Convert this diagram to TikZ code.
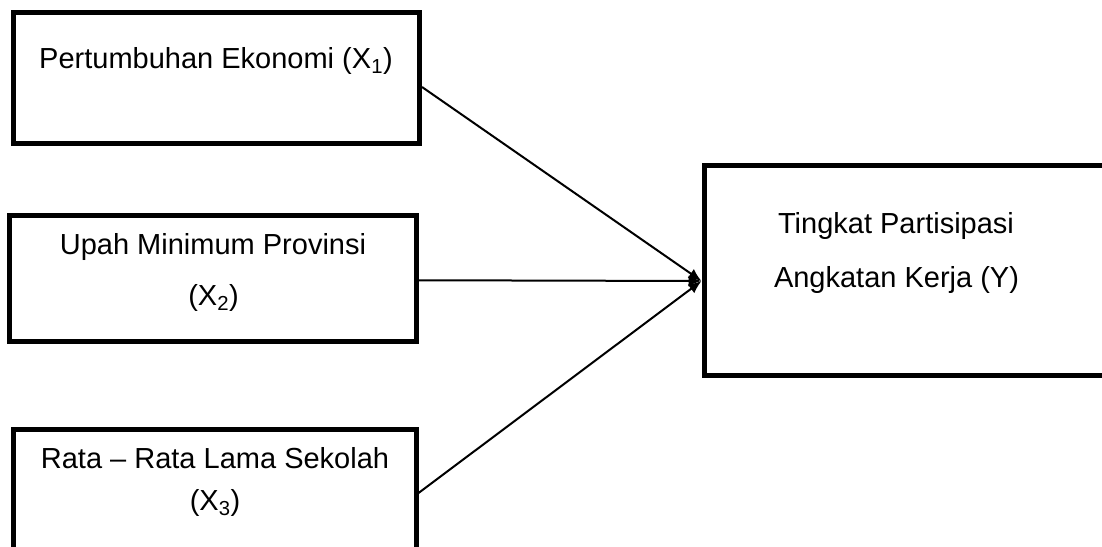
\documentclass[tikz,border=0pt]{standalone}
\usepackage{fontspec}
\setmainfont{Liberation Sans}
\usetikzlibrary{arrows.meta,calc}
\begin{document}
\begin{tikzpicture}[x=1pt,y=-1pt,
  box/.style={draw=black,line width=5pt,rectangle,inner sep=0pt},
  lbl/.style={anchor=base,inner sep=0pt,font=\fontsize{29}{34}\selectfont},
  link/.style={draw=black,line width=2pt,-{Latex[length=13pt,width=11pt]}}]
\useasboundingbox (0,0) rectangle (1102,546);
\clip (0,0) rectangle (1102,546);
\node[box,minimum width=406pt,minimum height=131pt] (b1) at (216.5,78) {};
\node[box,minimum width=407pt,minimum height=125.5pt] (b2) at (213,278.25) {};
\node[box,minimum width=402.5pt,minimum height=200pt] (b3) at (214.75,529) {};
\node[box,minimum width=420pt,minimum height=210pt] (Y) at (914,270.5) {};
\node[lbl] (t1) at (216,68) {Pertumbuhan Ekonomi (X\textsubscript{1})};
\node[lbl] (t2a) at (213,254) {Upah Minimum Provinsi};
\node[lbl] (t2b) at (213.5,305) {(X\textsubscript{2})};
\node[lbl] (t3a) at (215,468) {Rata – Rata Lama Sekolah};
\node[lbl] (t3b) at (215,510) {(X\textsubscript{3})};
\node[lbl] (tya) at (896,233) {Tingkat Partisipasi};
\node[lbl] (tyb) at (896.5,287) {Angkatan Kerja (Y)};
\coordinate (tip) at ($(Y.west)+(0,10.5)$);
\draw[link] ($(b1.east)+(0,9)$) -- (tip);
\draw[link] ($(b2.east)+(0,2)$) -- (tip);
\draw[link] ($(b3.east)+(0,-36)$) -- (tip);
\end{tikzpicture}
\end{document}
